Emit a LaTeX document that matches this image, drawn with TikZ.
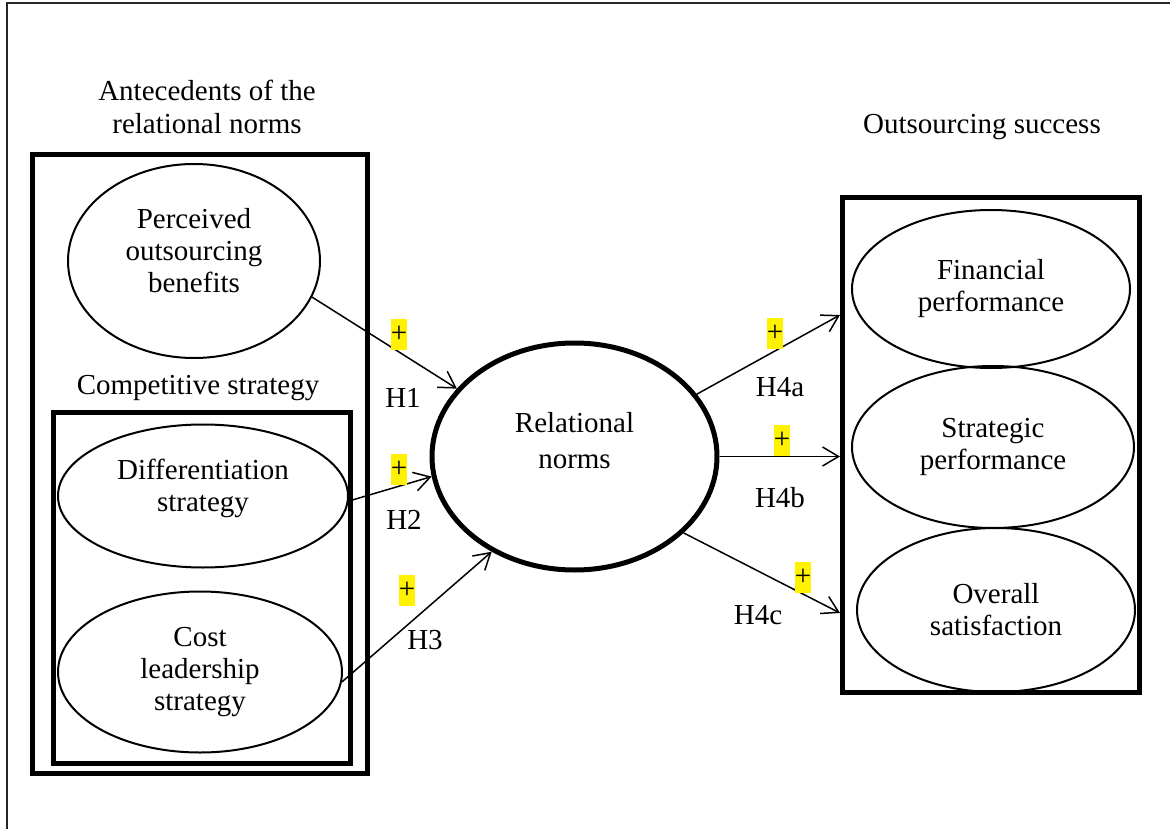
\documentclass[tikz,border=0pt]{standalone}
\usepackage{fontspec}
\setmainfont{Liberation Serif}
\usetikzlibrary{shapes.geometric,arrows.meta}
\tikzset{
  frameline/.style={line width=1.4pt, black!85},
  groupbox/.style={line width=5pt, black},
  construct/.style={ellipse, draw, line width=2pt, inner sep=0pt},
  central/.style={ellipse, draw, line width=5pt, inner sep=0pt},
  path/.style={line width=1.5pt, -{Straight Barb[length=16pt,width=19pt,line width=1.5pt]}},
  plus/.style={fill=yellow, inner sep=0pt, minimum width=16pt, minimum height=31pt},
  hyp/.style={inner sep=0pt},
  heading/.style={align=center, inner sep=0pt},
  every label/.style={align=center, inner sep=0pt}
}
\begin{document}
\begin{tikzpicture}[x=1pt,y=-1pt,font=\fontsize{29}{32}\selectfont]
\useasboundingbox (0,0) rectangle (1170,829);
% outer frame
\draw[frameline] (7,829) -- (7,3) -- (1170,3);
% headings
\node[heading, font=\fontsize{29}{33}\selectfont] (antT) at (207,106.5) {Antecedents of the\\relational norms};
\node[heading] (compT) at (198,388) {Competitive strategy};
\node[heading] (succT) at (982,127) {Outsourcing success};
% group boxes
\draw[groupbox] (32,155) rectangle (367,773);
\draw[groupbox] (53,412) rectangle (350,763);
\draw[groupbox] (842,198) rectangle (1139,692);
% constructs
\node[construct, minimum width=252pt, minimum height=194pt,
  label={[yshift=10pt]center:Perceived\\outsourcing\\benefits}] (perc) at (194,261) {};
\node[construct, minimum width=290pt, minimum height=143pt,
  label={[yshift=8pt]center:Differentiation\\strategy}] (diff) at (203,496) {};
\node[construct, minimum width=284pt, minimum height=161pt,
  label={center:Cost\\leadership\\strategy}] (cost) at (200,672) {};
\node[central, minimum width=285pt, minimum height=227pt,
  label={[yshift=16pt, font=\fontsize{29}{36}\selectfont]center:Relational\\norms}] (rel) at (574.5,456.5) {};
\node[construct, minimum width=278pt, minimum height=158pt,
  label={center:Financial\\performance}] (fin) at (991,289) {};
\node[construct, minimum width=282pt, minimum height=162pt,
  label={center:Strategic\\performance}] (strat) at (993,447) {};
\node[construct, minimum width=278pt, minimum height=164pt,
  label={center:Overall\\satisfaction}] (sat) at (996,610) {};
% arrow end points on the outcome box
\coordinate (t4a) at (840,315);
\coordinate (t4b) at (840,456.5);
\coordinate (t4c) at (840,613);
% paths
\draw[path] (perc.-17.7) -- (rel.150.6);
\draw[path] (diff.-2.3) -- (rel.-172.7);
\draw[path] (cost.-4.4) -- (rel.-131.3);
\draw[path] (rel.27.8) -- (t4a);
\draw[path] (rel.east) -- (t4b);
\draw[path] (rel.-35.1) -- (t4c);
% signs
\node[plus] (s1) at (399,334) {+};
\node[plus] (s2) at (399,469) {+};
\node[plus] (s3) at (407,590) {+};
\node[plus] (s4a) at (775,333) {+};
\node[plus] (s4b) at (782,440) {+};
\node[plus] (s4c) at (803,577) {+};
% hypothesis labels
\node[hyp] (h1) at (403,398) {H1};
\node[hyp] (h2) at (404,520) {H2};
\node[hyp] (h3) at (425,640) {H3};
\node[hyp] (h4a) at (780,387) {H4a};
\node[hyp] (h4b) at (780,498) {H4b};
\node[hyp] (h4c) at (758,615) {H4c};
\end{tikzpicture}
\end{document}
